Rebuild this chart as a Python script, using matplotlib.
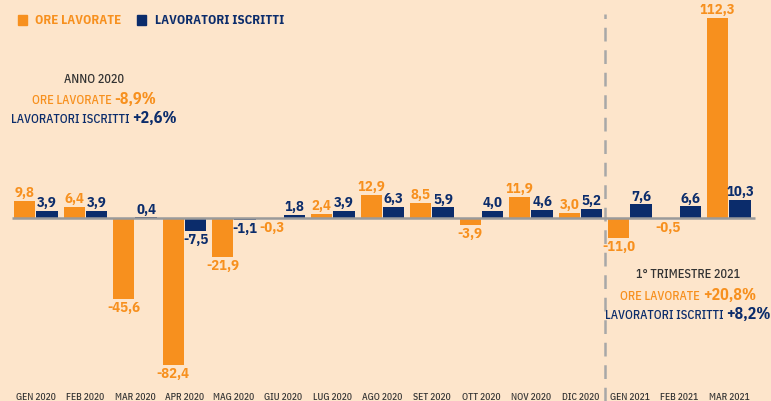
import matplotlib
matplotlib.use('Agg')
from matplotlib import pyplot as plt
from matplotlib.patches import Rectangle
import numpy as np

mesi = ['GEN 2020', 'FEB 2020', 'MAR 2020', 'APR 2020', 'MAG 2020', 'GIU 2020', 'LUG 2020',
        'AGO 2020', 'SET 2020', 'OTT 2020', 'NOV 2020', 'DIC 2020', 'GEN 2021', 'FEB 2021', 'MAR 2021']
ore_lavorate = [9.8, 6.4, -45.6, -82.4, -21.9, -0.3, 2.4, 12.9, 8.5, -3.9, 11.9, 3.0, -11.0, -0.5, 112.3]
lavoratori_iscritti = [3.9, 3.9, 0.4, -7.5, -1.1, 1.8, 3.9, 6.3, 5.9, 4.0, 4.6, 5.2, 7.6, 6.6, 10.3]

BG = '#fde5cb'
ARANCIO = '#f7901e'
BLU = '#0b2c6b'
GRIGIO = '#333333'
plt.rcParams['font.family'] = ['IBM Plex Sans Condensed', 'DejaVu Sans']
plt.rcParams['font.weight'] = 'bold'

fig = plt.figure(figsize=(7.71, 4.01), dpi=100, facecolor=BG)
ax = fig.add_axes([0, 0, 1, 1])
ax.set_facecolor(BG)

x = np.arange(len(mesi))
w = 0.43
off = w / 2 + 0.01
ax.bar(x - off, ore_lavorate, w, color=ARANCIO, zorder=2)
ax.bar(x + off, lavoratori_iscritti, w, color=BLU, zorder=2)
ax.set_xlim(-0.727, 14.85)
ax.set_ylim(-102.6, 122.2)
ax.hlines(0, -0.485, 14.525, color='#9a9a9a', lw=1.8, zorder=3)
ax.axvline(11.5, ymin=0, ymax=0.965, color='#a8a8a8', lw=1.8, ls=(0, (5.5, 3.5)), zorder=1)
ax.axis('off')

def etichetta(xi, v, col):
    s = ('%.1f' % v).replace('.', ',')
    if v >= 0:
        ax.annotate(s, (xi, v), xytext=(0, 0.5), textcoords='offset points', ha='center', va='bottom',
                    color=col, fontsize=10.5)
    else:
        ax.annotate(s, (xi, v), xytext=(0, -1.5), textcoords='offset points', ha='center', va='top',
                    color=col, fontsize=10.5)

for i in x:
    etichetta(i - off, ore_lavorate[i], ARANCIO)
    etichetta(i + off, lavoratori_iscritti[i], BLU)

for i, m in enumerate(mesi):
    ax.text(i, 0.008, m, transform=ax.get_xaxis_transform(), ha='center', va='center',
            fontsize=6.8, color=GRIGIO, fontweight='medium')

# legenda
W, H = 771, 401
def fx(px):
    return px / W
def fy(py):
    return 1 - py / H

fig.patches.append(Rectangle((fx(18), fy(25)), 9 / W, 10 / H, color=ARANCIO, transform=fig.transFigure))
fig.text(fx(35), fy(20), 'ORE LAVORATE', color=ARANCIO, fontsize=9.3, va='center')
fig.patches.append(Rectangle((fx(137), fy(25)), 9 / W, 10 / H, color=BLU, transform=fig.transFigure))
fig.text(fx(155), fy(20), 'LAVORATORI ISCRITTI', color=BLU, fontsize=9.3, va='center')

renderer = fig.canvas.get_renderer()

def riga(cx, py, parte1, parte2, col):
    t1 = fig.text(0, fy(py), parte1 + ' ', color=col, fontsize=8.8, fontweight='medium', va='baseline')
    t2 = fig.text(0, fy(py), parte2, color=col, fontsize=11.5, va='baseline')
    w1 = t1.get_window_extent(renderer).width
    w2 = t2.get_window_extent(renderer).width
    x0 = cx - (w1 + w2) / 2
    t1.set_x(fx(x0))
    t2.set_x(fx(x0 + w1))

fig.text(fx(94), fy(83), 'ANNO 2020', color=GRIGIO, fontsize=8.8, fontweight='medium', ha='center', va='baseline')
riga(94, 104, 'ORE LAVORATE', '-8,9%', ARANCIO)
riga(94, 123, 'LAVORATORI ISCRITTI', '+2,6%', BLU)

fig.text(fx(688), fy(278), '1° TRIMESTRE 2021', color=GRIGIO, fontsize=8.8, fontweight='medium', ha='center', va='baseline')
riga(688, 300, 'ORE LAVORATE', '+20,8%', ARANCIO)
riga(688, 319, 'LAVORATORI ISCRITTI', '+8,2%', BLU)

plt.savefig('out.png', dpi=100, facecolor=BG)
